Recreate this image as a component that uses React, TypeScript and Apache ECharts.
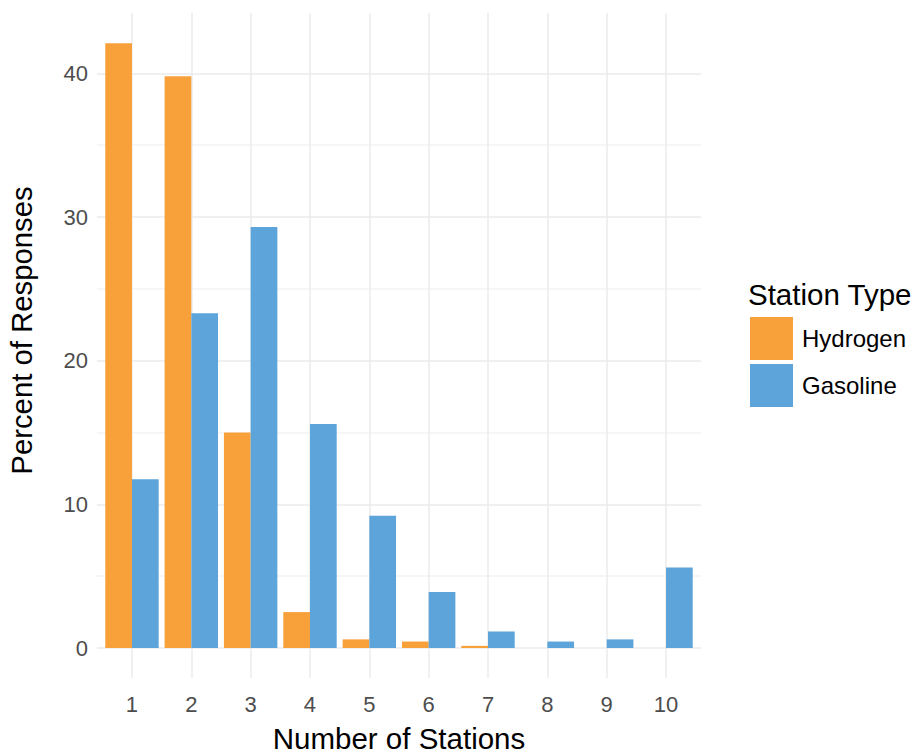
import React, { useEffect, useRef } from "react";
import * as echarts from "echarts";

const categories = ["1", "2", "3", "4", "5", "6", "7", "8", "9", "10"];
const hydrogen = [42.1, 39.8, 15.0, 2.5, 0.6, 0.45, 0.15, 0, 0, 0];
const gasoline = [11.75, 23.3, 29.3, 15.6, 9.2, 3.9, 1.15, 0.45, 0.6, 5.6];
const seriesNames = ["Hydrogen", "Gasoline"];
const legendTitle = "Station Type";
const xTitle = "Number of Stations";
const yTitle = "Percent of Responses";

const FONT = "Liberation Sans, Arial, sans-serif";
const GRID = "#ebebeb";
const GRID_MINOR = "#f3f3f3";
const Y_MIN = 0;
const Y_MAX = 44.2;

export default function App() {
  const ref = useRef<HTMLDivElement>(null);
  useEffect(() => {
    if (!ref.current) return;
    const chart = echarts.init(ref.current, undefined, { renderer: "svg" });
    chart.setOption({
      animation: false,
      backgroundColor: "#ffffff",
      textStyle: { fontFamily: FONT },
      grid: [
        // panel (horizontal grid lines, y labels)
        { left: 97, right: 216, top: 13, bottom: 107, containLabel: false, outerBoundsMode: "none" },
        // discrete x scale (with ggplot-like expansion inside the panel)
        { left: 102.3, right: 221.3, top: 13, bottom: 107, containLabel: false, outerBoundsMode: "none" },
      ],
      legend: {
        orient: "vertical",
        left: 745,
        top: 312,
        itemWidth: 43,
        itemHeight: 43,
        itemGap: 4,
        icon: "rect",
        data: seriesNames,
        textStyle: { fontFamily: FONT, fontSize: 24, color: "#000", padding: [0, 0, 0, 4] },
      },
      graphic: [
        {
          type: "text",
          left: 748,
          top: 279,
          style: { text: legendTitle, font: `29.5px ${FONT}`, fill: "#000" },
        },
      ],
      xAxis: [
        {
          gridIndex: 0,
          type: "value",
          show: false,
        },
        {
          gridIndex: 1,
          type: "category",
          data: categories,
          axisLine: { show: false },
          axisTick: {
            show: true,
            alignWithLabel: true,
            length: 30,
            inside: false,
            lineStyle: { color: GRID, width: 1.5 },
          },
          splitLine: {
            show: true,
            alignWithLabel: true,
            lineStyle: { color: GRID, width: 1.5 },
          },
          axisLabel: { fontFamily: FONT, fontSize: 22, color: "#4d4d4d", margin: 45 },
          name: xTitle,
          nameLocation: "middle",
          nameGap: 80,
          nameTextStyle: { fontFamily: FONT, fontSize: 29.5, color: "#000", lineHeight: 20 },
        },
      ],
      yAxis: [
        {
          gridIndex: 0,
          type: "value",
          min: Y_MIN,
          max: Y_MAX,
          interval: 5,
          axisLine: { show: false },
          axisTick: { show: false },
          splitLine: {
            show: true,
            showMaxLine: false,
            lineStyle: { color: [GRID, GRID_MINOR], width: 1.5 },
          },
          axisLabel: {
            fontFamily: FONT,
            fontSize: 22,
            color: "#4d4d4d",
            margin: 9,
            showMaxLabel: false,
            formatter: (v: number) => (v % 10 === 0 ? String(v) : ""),
          },
          name: yTitle,
          nameLocation: "middle",
          nameRotate: 90,
          nameGap: 61,
          nameTextStyle: { fontFamily: FONT, fontSize: 29.3, color: "#000" },
        },
        {
          gridIndex: 1,
          type: "value",
          min: Y_MIN,
          max: Y_MAX,
          show: false,
          splitLine: { show: false },
        },
      ],
      series: [
        {
          name: seriesNames[0],
          type: "bar",
          xAxisIndex: 1,
          yAxisIndex: 1,
          data: hydrogen,
          itemStyle: { color: "#f8a13a" },
          barGap: "0%",
          barCategoryGap: "10%",
        },
        {
          name: seriesNames[1],
          type: "bar",
          xAxisIndex: 1,
          yAxisIndex: 1,
          data: gasoline,
          itemStyle: { color: "#5ca4d9" },
          barGap: "0%",
          barCategoryGap: "10%",
        },
      ],
    });
    return () => chart.dispose();
  }, []);
  return <div ref={ref} style={{ width: 917, height: 755, position: "absolute", left: 0, top: 0 }} />;
}
